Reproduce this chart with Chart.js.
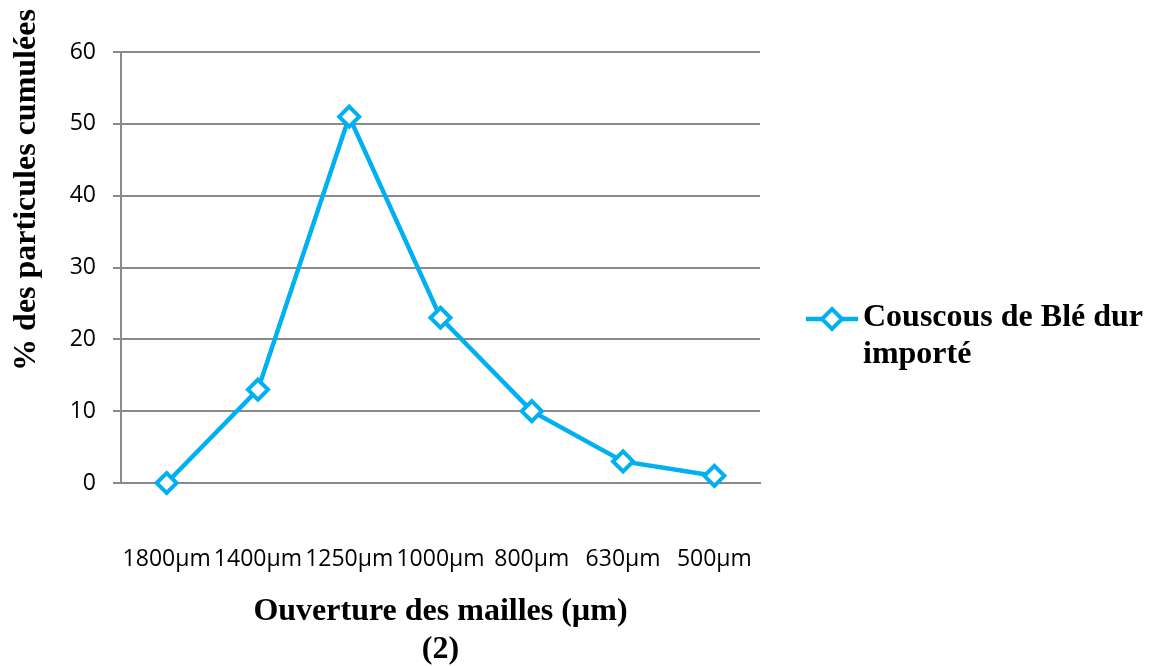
<!DOCTYPE html>
<html>
<head>
<meta charset="utf-8">
<script src="https://cdn.jsdelivr.net/npm/chart.js@4/dist/chart.umd.min.js"></script>
<style>
  html, body { margin: 0; padding: 0; background: #ffffff; }
  #wrap { width: 1156px; height: 666px; }
</style>
</head>
<body>
<div id="wrap"><canvas id="c" width="1156" height="666"></canvas></div>
<script>
// Mesh openings (sieve sizes) and cumulative particle percentages
const categories = ['1800µm', '1400µm', '1250µm', '1000µm', '800µm', '630µm', '500µm'];
const seriesValues = [0, 13, 51, 23, 10, 3, 1];
const yTicks = [0, 10, 20, 30, 40, 50, 60];
const seriesName = ['Couscous de Blé dur', 'importé'];
const xTitle = ['Ouverture des mailles (µm)', '(2)'];
const yTitle = '% des particules cumulées';

const LINE = 'rgb(0,176,240)';
const GRID = '#8a8a8a';
const SERIF = '"Liberation Serif", "Times New Roman", serif';

// Axis titles and the wrapped legend entry drawn on the canvas
const annotations = {
  id: 'annotations',
  afterDraw(chart) {
    const ctx = chart.ctx;
    const area = chart.chartArea;
    ctx.save();
    ctx.fillStyle = '#000';
    ctx.font = 'bold 32px ' + SERIF;
    ctx.textAlign = 'center';
    ctx.textBaseline = 'middle';

    // vertical title
    ctx.save();
    ctx.translate(27, 190);
    ctx.rotate(-Math.PI / 2);
    ctx.fillText(yTitle, 0, 0);
    ctx.restore();

    // horizontal title (two lines)
    const cx = (area.left + area.right) / 2;
    ctx.fillText(xTitle[0], cx, 612);
    ctx.fillText(xTitle[1], cx, 650);

    // legend entry
    const ly = 319;
    ctx.strokeStyle = LINE;
    ctx.lineWidth = 4.5;
    ctx.beginPath();
    ctx.moveTo(806, ly);
    ctx.lineTo(858, ly);
    ctx.stroke();
    const r = 10;
    ctx.beginPath();
    ctx.moveTo(832, ly - r);
    ctx.lineTo(832 + r, ly);
    ctx.lineTo(832, ly + r);
    ctx.lineTo(832 - r, ly);
    ctx.closePath();
    ctx.fillStyle = '#ffffff';
    ctx.fill();
    ctx.lineWidth = 4;
    ctx.stroke();

    ctx.fillStyle = '#000';
    ctx.textAlign = 'left';
    ctx.fillText(seriesName[0], 863, 318);
    ctx.fillText(seriesName[1], 863, 355);
    ctx.restore();
  }
};

new Chart(document.getElementById('c'), {
  type: 'line',
  data: {
    labels: categories,
    datasets: [{
      label: seriesName.join(' '),
      data: seriesValues,
      borderColor: LINE,
      backgroundColor: '#ffffff',
      borderWidth: 4.5,
      tension: 0,
      clip: false,
      pointStyle: 'rectRot',
      pointRadius: 10,
      pointBorderWidth: 4,
      pointBorderColor: LINE,
      pointBackgroundColor: '#ffffff'
    }]
  },
  options: {
    responsive: false,
    animation: false,
    layout: { padding: { left: 0, right: 396, top: 52, bottom: 0 } },
    plugins: { legend: { display: false }, tooltip: { enabled: false } },
    scales: {
      x: {
        offset: true,
        grid: { display: false },
        border: { display: true, color: GRID, width: 2 },
        ticks: {
          autoSkip: false,
          maxRotation: 0,
          minRotation: 0,
          padding: 55,
          color: '#000',
          font: { family: '"Open Sans", sans-serif', size: 23 }
        },
        afterFit(scale) { scale.height = 666 - 483; }
      },
      y: {
        min: 0,
        max: 60,
        afterBuildTicks(scale) { scale.ticks = yTicks.map(v => ({ value: v })); },
        grid: { color: GRID, lineWidth: 2, tickLength: 8, drawTicks: true },
        border: { display: true, color: GRID, width: 2 },
        ticks: {
          padding: 17,
          color: '#000',
          font: { family: '"Open Sans", sans-serif', size: 23 }
        },
        afterFit(scale) { scale.width = 121; }
      }
    }
  },
  plugins: [annotations]
});
</script>
</body>
</html>
